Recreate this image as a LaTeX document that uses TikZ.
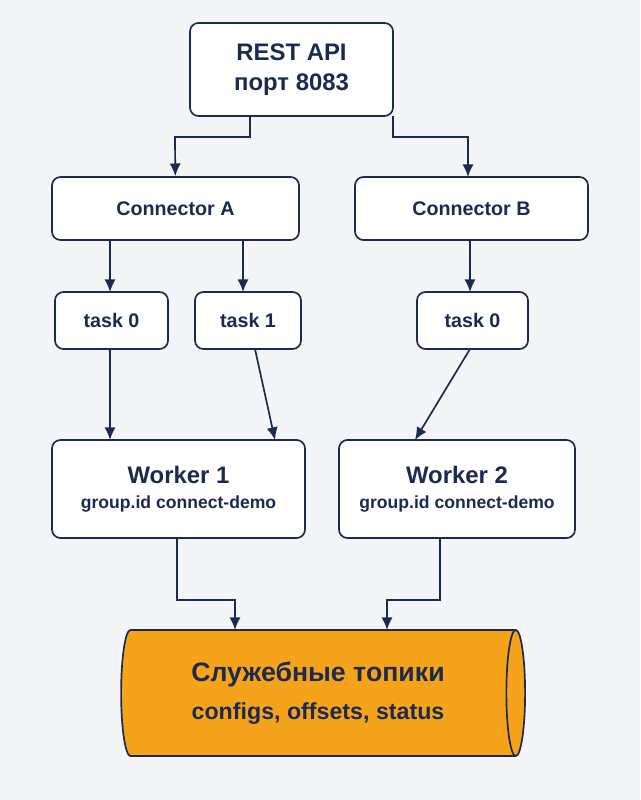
\documentclass[tikz,border=0pt]{standalone}
\usepackage{fontspec}
\setmainfont{Liberation Sans}
\usetikzlibrary{arrows.meta,shapes.geometric}
\definecolor{navy}{HTML}{1B2A4E}
\definecolor{bg}{HTML}{F4F5F7}
\definecolor{topic}{HTML}{F5A31A}
\tikzset{
    box/.style = {
        draw=navy, line width=1.2pt, rounded corners=6pt, fill=white,
        text=navy, font=\bfseries, align=center, inner sep=0pt,
        },
    link/.style = {
        draw=navy, line width=1.2pt, -{Latex[length=9pt,width=8pt]},
        },
}
\begin{document}
\begin{tikzpicture}[x=0.025cm,y=-0.025cm]
    \fill[bg] (0,0) rectangle (640,800);
    \useasboundingbox (0,0) rectangle (640,800);

    \node[box, minimum width=203*0.025cm, minimum height=93*0.025cm, font=\bfseries\fontsize{17}{21}\selectfont] (api) at (291.5,69.5) {REST API\\порт 8083};
    \node[box, minimum width=247*0.025cm, minimum height=63*0.025cm, font=\bfseries\fontsize{14}{17}\selectfont] (conA) at (175.5,208.5) {Connector A};
    \node[box, minimum width=233*0.025cm, minimum height=63*0.025cm, font=\bfseries\fontsize{14}{17}\selectfont] (conB) at (471.5,208.5) {Connector B};
    \node[box, minimum width=113*0.025cm, minimum height=57*0.025cm, font=\bfseries\fontsize{14}{16}\selectfont] (taskA0) at (111.5,320.5) {task 0};
    \node[box, minimum width=106*0.025cm, minimum height=57*0.025cm, font=\bfseries\fontsize{14}{16}\selectfont] (taskA1) at (248,320.5) {task 1};
    \node[box, minimum width=111*0.025cm, minimum height=57*0.025cm, font=\bfseries\fontsize{14}{16}\selectfont] (taskB0) at (472.5,320.5) {task 0};
    \node[box, minimum width=253*0.025cm, minimum height=98*0.025cm, font=\bfseries\fontsize{12.5}{18}\selectfont] (w1) at (178.5,489) {{\fontsize{17}{20}\selectfont Worker 1}\\group.id connect-demo};
    \node[box, minimum width=236*0.025cm, minimum height=98*0.025cm, font=\bfseries\fontsize{12.5}{18}\selectfont] (w2) at (457,489) {{\fontsize{17}{20}\selectfont Worker 2}\\group.id connect-demo};
    \node[cylinder, draw=navy, line width=1.2pt, fill=topic, text=navy, align=center,
          minimum width=126*0.025cm, minimum height=404*0.025cm, aspect=0.3, inner sep=0pt,
          font=\bfseries\fontsize{19}{27}\selectfont] (topics) at (318,693)
          {Служебные топики\\{\fontsize{16.5}{20}\selectfont configs, offsets, status}};

    \draw[link] (250,116) |- (175,137) -- (conA);
    \draw[link] (393,116) |- (468,137) -- (468,177);
    \draw[link] (110,240) -- (110,292);
    \draw[link] (243,240) -- (243,292);
    \draw[link] (470,240) -- (470,292);
    \draw[link] (110,349) -- (110,440);
    \draw[link] (255,349) -- (275,440);
    \draw[link] (470,349) -- (415,440);
    \draw[link] (177,538) |- (235,600) -- (235,630);
    \draw[link] (440,538) |- (387,600) -- (387,630);
\end{tikzpicture}
\end{document}
